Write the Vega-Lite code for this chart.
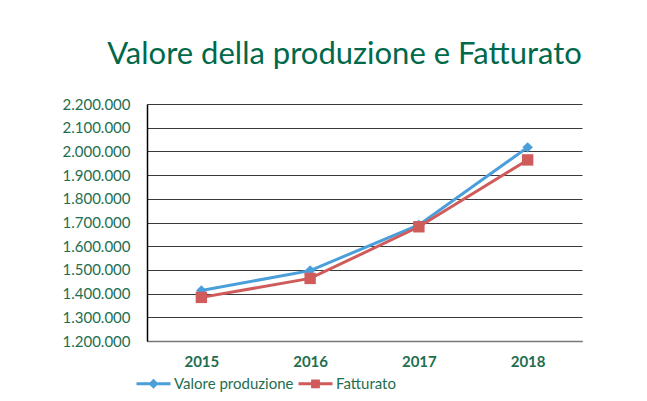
{
  "$schema": "https://vega.github.io/schema/vega-lite/v6.json",
  "autosize": "none",
  "width": 435,
  "height": 237,
  "padding": {"left": 147, "top": 104, "right": 65, "bottom": 60},
  "background": "white",
  "title": {
    "text": "Valore della produzione e Fatturato",
    "font": "Lato",
    "fontSize": 31,
    "fontWeight": "normal",
    "color": "#00694b",
    "anchor": "middle",
    "dx": -20,
    "offset": 26
  },
  "data": {
    "values": [
      {"anno": "2015", "serie": "Valore produzione", "valore": 1413000},
      {"anno": "2016", "serie": "Valore produzione", "valore": 1497000},
      {"anno": "2017", "serie": "Valore produzione", "valore": 1690000},
      {"anno": "2018", "serie": "Valore produzione", "valore": 2017000},
      {"anno": "2015", "serie": "Fatturato", "valore": 1384000},
      {"anno": "2016", "serie": "Fatturato", "valore": 1464000},
      {"anno": "2017", "serie": "Fatturato", "valore": 1682000},
      {"anno": "2018", "serie": "Fatturato", "valore": 1964000}
    ]
  },
  "encoding": {
    "x": {
      "field": "anno",
      "type": "ordinal",
      "scale": {"type": "point", "padding": 0.5},
      "axis": {
        "title": null,
        "labelAngle": 0,
        "labelFont": "Lato",
        "labelFontSize": 15,
        "labelFontWeight": "bold",
        "labelColor": "#1e6e50",
        "labelPadding": 13,
        "ticks": false,
        "domainColor": "#777777",
        "domainWidth": 1.5,
        "grid": false
      }
    },
    "y": {
      "field": "valore",
      "type": "quantitative",
      "scale": {"domain": [1200000, 2200000], "nice": false, "zero": false},
      "axis": {
        "title": null,
        "values": [1200000, 1300000, 1400000, 1500000, 1600000, 1700000, 1800000, 1900000, 2000000, 2100000, 2200000],
        "labelExpr": "replace(format(datum.value, ','), regexp(',', 'g'), '.')",
        "labelFont": "Lato",
        "labelFontSize": 15,
        "labelColor": "#1e6e50",
        "labelPadding": 17,
        "ticks": false,
        "domainColor": "#000000",
        "domainWidth": 1.5,
        "grid": true,
        "gridColor": "#3a3a3a",
        "gridWidth": 1
      }
    },
    "color": {
      "field": "serie",
      "type": "nominal",
      "sort": ["Valore produzione", "Fatturato"],
      "scale": {"domain": ["Valore produzione", "Fatturato"], "range": ["#4a9fdb", "#cf5b5b"]},
      "legend": {
        "title": null,
        "orient": "none",
        "direction": "horizontal",
        "legendX": -12,
        "legendY": 261,
        "labelFont": "Lato",
        "labelFontSize": 15,
        "labelColor": "#1e6e50",
        "labelOffset": 2,
        "columnPadding": -2,
        "symbolSize": 1156,
        "symbolStrokeWidth": 3,
        "encode": {
          "symbols": {
            "update": {
              "shape": {"signal": "datum.value === 'Fatturato' ? 'M-1,0H1M-0.17,-0.17H0.17V0.17H-0.17Z' : 'M-1,0H1M0,-0.17L0.17,0L0,0.17L-0.17,0Z'"},
              "fill": {"scale": "color", "field": "value"},
              "stroke": {"scale": "color", "field": "value"},
              "strokeWidth": {"value": 3},
              "opacity": {"value": 1}
            }
          }
        }
      }
    }
  },
  "layer": [
    {"mark": {"type": "line", "strokeWidth": 3}},
    {
      "transform": [{"filter": "datum.serie === 'Valore produzione'"}],
      "mark": {"type": "point", "filled": true, "opacity": 1, "shape": "diamond", "size": 110}
    },
    {
      "transform": [{"filter": "datum.serie === 'Fatturato'"}],
      "mark": {"type": "point", "filled": true, "opacity": 1, "shape": "square", "size": 130}
    }
  ],
  "config": {"view": {"stroke": null}}
}
